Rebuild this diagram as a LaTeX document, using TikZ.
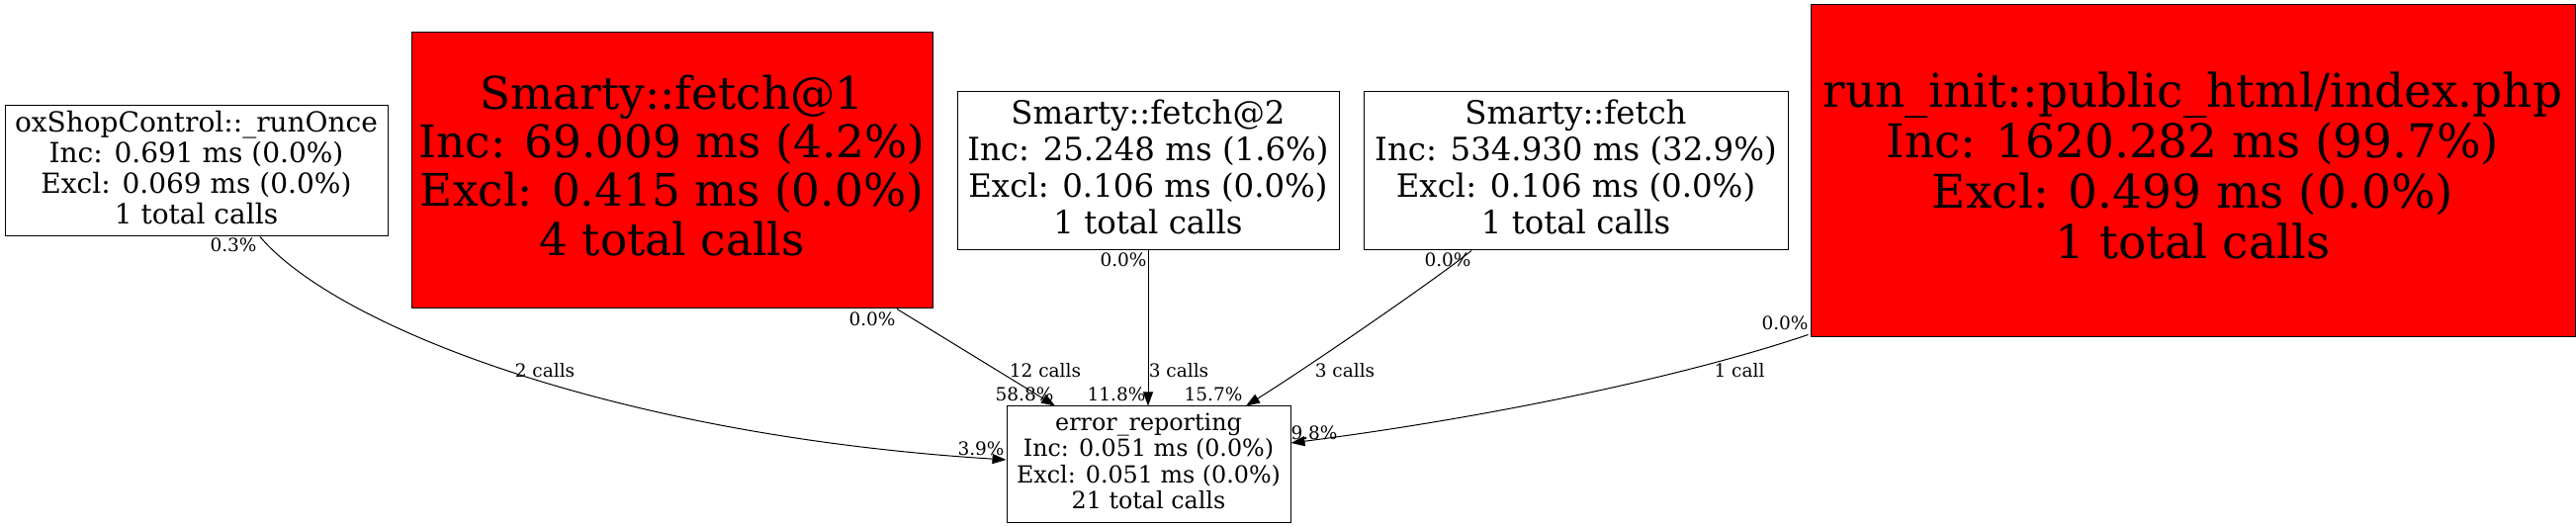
\documentclass[tikz,border=0pt]{standalone}
\usepackage{fontspec}
\setmainfont{DejaVu Serif}
\usetikzlibrary{arrows.meta,calc}
\begin{document}
\begin{tikzpicture}[x=0.5pt,y=-0.5pt,
  fnode/.style={draw=black,line width=0.5pt,rectangle,inner sep=0pt,align=center},
  hot/.style={fnode,fill=red},
  elabel/.style={inner sep=0pt,font=\fontsize{9.25}{11}\selectfont},
  calledge/.style={draw=black,line width=0.5pt,-{Triangle[length=7pt,width=5pt]}}]
\useasboundingbox (0,0) rectangle (2605,533);

\node[fnode,minimum width=193.5pt,minimum height=66pt,text depth=3.8pt,font=\fontsize{14}{15.5}\selectfont] (ox) at (198.5,173)
  {oxShopControl::\_runOnce\\Inc: 0.691 ms (0.0\%)\\Excl: 0.069 ms (0.0\%)\\1 total calls};
\node[hot,minimum width=263.5pt,minimum height=139.5pt,text depth=5.5pt,font=\fontsize{22.7}{24.6}\selectfont] (f1) at (679.5,172.5)
  {Smarty::fetch@1\\Inc: 69.009 ms (4.2\%)\\Excl: 0.415 ms (0.0\%)\\4 total calls};
\node[fnode,minimum width=193pt,minimum height=80pt,text depth=4.4pt,font=\fontsize{16.2}{18.6}\selectfont] (f2) at (1161,173)
  {Smarty::fetch@2\\Inc: 25.248 ms (1.6\%)\\Excl: 0.106 ms (0.0\%)\\1 total calls};
\node[fnode,minimum width=214.5pt,minimum height=80pt,text depth=4.4pt,font=\fontsize{16.2}{18.6}\selectfont] (f) at (1593.5,173)
  {Smarty::fetch\\Inc: 534.930 ms (32.9\%)\\Excl: 0.106 ms (0.0\%)\\1 total calls};
\node[hot,minimum width=386.5pt,minimum height=168pt,text depth=6pt,font=\fontsize{23.5}{25.5}\selectfont] (ri) at (2217.5,173)
  {run\_init::public\_html/index.php\\Inc: 1620.282 ms (99.7\%)\\Excl: 0.499 ms (0.0\%)\\1 total calls};
\node[fnode,minimum width=143.5pt,minimum height=58.5pt,text depth=3.2pt,font=\fontsize{11.9}{13.25}\selectfont] (er) at (1161.5,469.5)
  {error\_reporting\\Inc: 0.051 ms (0.0\%)\\Excl: 0.051 ms (0.0\%)\\21 total calls};

\draw[calledge] ($(ox.south)+(64.5,0)$) .. controls (340,330) and (620,440) .. ($(er.west)+(0,-4.5)$);
\draw[calledge] ($(f1.south)+(227.5,0)$) -- ($(er.north)+(-94.5,0)$);
\draw[calledge] (f2.south) -- (f2.south |- er.north);
\draw[calledge] ($(f.south)+(-105.5,0)$) .. controls (1450,284) and (1320,373) .. ($(er.north)+(98.5,0)$);
\draw[calledge] ($(ri.south west)+(-2,-3)$) .. controls (1700,382) and (1500,423) .. ($(er.east)+(0,-21.5)$);

\node[elabel] (l1a) at (236,248) {0.3\%};
\node[elabel] (l1b) at (551,375) {2 calls};
\node[elabel] (l1c) at (992,454) {3.9\%};
\node[elabel] (l2a) at (882,323) {0.0\%};
\node[elabel] (l2b) at (1057,375) {12 calls};
\node[elabel] (l2c) at (1036,399) {58.8\%};
\node[elabel] (l3a) at (1136,263) {0.0\%};
\node[elabel] (l3b) at (1192,375) {3 calls};
\node[elabel] (l3c) at (1129,399) {11.8\%};
\node[elabel] (l4a) at (1464,263) {0.0\%};
\node[elabel] (l4b) at (1360,375) {3 calls};
\node[elabel] (l4c) at (1227,399) {15.7\%};
\node[elabel] (l5a) at (1805,327) {0.0\%};
\node[elabel] (l5b) at (1759,375) {1 call};
\node[elabel] (l5c) at (1329,438) {9.8\%};
\end{tikzpicture}
\end{document}
